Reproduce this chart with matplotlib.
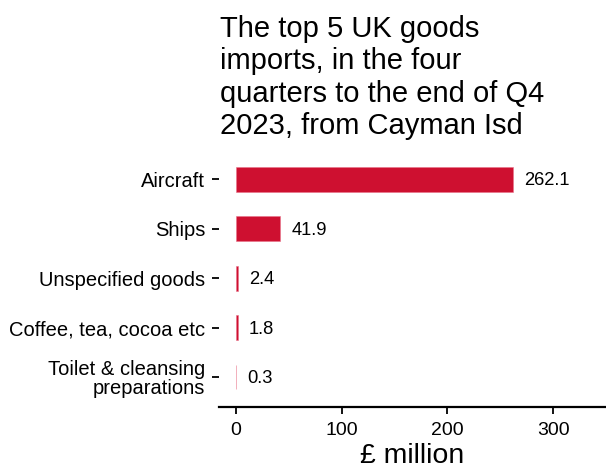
import matplotlib
matplotlib.use("Agg")
import matplotlib.pyplot as plt

categories = ["Aircraft", "Ships", "Unspecified goods", "Coffee, tea, cocoa etc",
              "Toilet & cleansing\npreparations"]
values = [262.1, 41.9, 2.4, 1.8, 0.3]
value_labels = ["262.1", "41.9", "2.4", "1.8", "0.3"]
xticks = [0, 100, 200, 300]

plt.rcParams['font.family'] = ['Liberation Sans', 'DejaVu Sans']

fig = plt.figure(figsize=(6.06, 4.71), dpi=100)
ax = fig.add_axes([0.3614, 0.1365, 1 - 0.3614, 0.682 - 0.1365])

ypos = list(range(len(categories)))
ax.barh(ypos, values, height=0.5, color="#CE1030", edgecolor="#E8738A", linewidth=0.4)
for y, v, lab in zip(ypos, values, value_labels):
    ax.annotate(lab, (v, y), xytext=(8, -1), textcoords="offset points",
                ha="left", va="center", fontsize=13.2, color="black")

ax.set_yticks(ypos)
ax.set_yticklabels(categories, fontsize=14.5, ha="right", linespacing=1.0)
ax.set_ylim(len(categories) - 0.4, -0.6)
ax.set_xlim(-16, 350)
ax.set_xticks(xticks)
ax.set_xticklabels([str(t) for t in xticks], fontsize=14)
ax.set_xlabel("£ million", fontsize=20.5, labelpad=3)

for s in ["top", "right", "left"]:
    ax.spines[s].set_visible(False)
ax.spines["bottom"].set_linewidth(1.6)
ax.tick_params(axis="y", length=5, width=1.3, pad=5)
ax.tick_params(axis="x", length=5, width=1.3, pad=6)

fig.text(0.3630, 0.968, "The top 5 UK goods\nimports, in the four\nquarters to the end of Q4\n2023, from Cayman Isd",
         ha="left", va="top", fontsize=21)

fig.savefig("out.png", dpi=100)
